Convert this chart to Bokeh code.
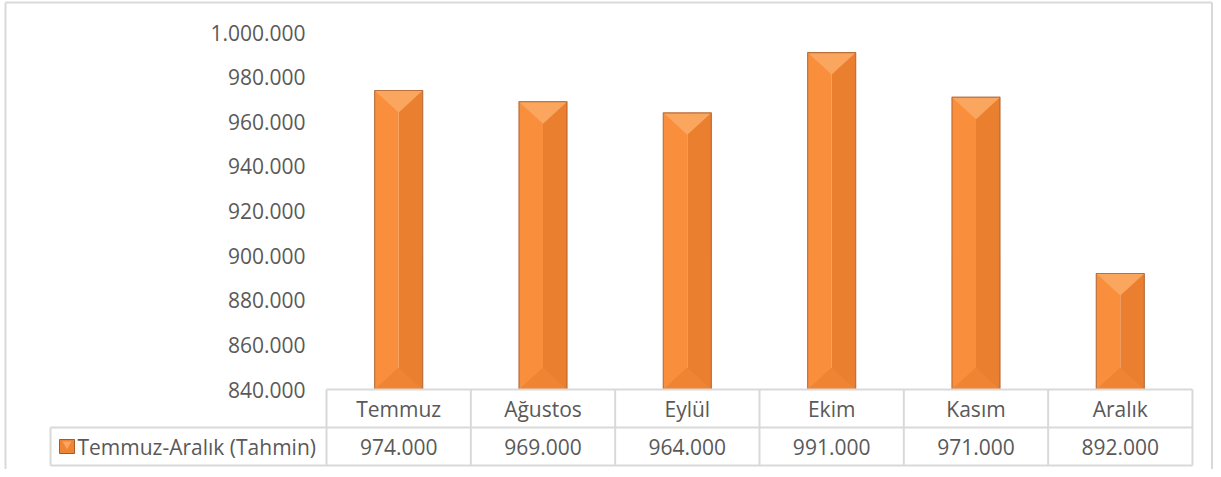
from bokeh.plotting import figure
from bokeh.models import Range1d
from bokeh.core.properties import value
from bokeh.embed import file_html
from bokeh.resources import INLINE

# ---- data ----
categories = ["Temmuz", "Ağustos", "Eylül", "Ekim", "Kasım", "Aralık"]
series_name = "Temmuz-Aralık (Tahmin)"
values = [974000, 969000, 964000, 991000, 971000, 892000]
y_ticks = [840000, 860000, 880000, 900000, 920000, 940000, 960000, 980000, 1000000]


def tr(n):
    return f"{n:,}".replace(",", ".")


# ---- layout constants (canvas pixels) ----
W, H = 1213, 469
col_px = 144.33
plot_left_px = 326
y_top_px, y_bot_px = 32, 389
row1_bot_px, row2_bot_px = 427, 465
name_left_px = 50
ymin, ymax = y_ticks[0], y_ticks[-1]
dpp = (ymax - ymin) / (y_bot_px - y_top_px)


def py(cy):
    return ymin - (cy - y_bot_px) * dpp


def px(cx):
    return -0.5 + (cx - plot_left_px) / col_px


FONT = value("Open Sans")
TXT = "#595959"
GRID = "#D9D9D9"
FS = "21px"

p = figure(width=W, height=H, x_range=Range1d(px(0), px(W)), y_range=Range1d(py(H), py(0)),
           output_backend="svg", toolbar_location=None, min_border=0,
           x_axis_location=None, y_axis_location=None, outline_line_color=None)
p.grid.visible = False
p.background_fill_color = "white"
p.border_fill_color = "white"

n = len(categories)
# ---- outer border ----
p.segment(x0=[px(5), px(5), px(W - 1.5)], y0=[py(2), py(2), py(2)],
          x1=[px(W - 1.5), px(5), px(W - 1.5)], y1=[py(2), py(H), py(H)],
          line_color=GRID, line_width=2)

# ---- bars with bevel ----
hw = 1 / 6
bev = 22 * dpp
xs_l, ys_l, xs_r, ys_r, xs_t, ys_t, xs_b, ys_b, xs_o, ys_o = [], [], [], [], [], [], [], [], [], []
for i, v in enumerate(values):
    x0, x1, xc = i - hw, i + hw, i
    xs_l.append([x0, xc, xc, x0]); ys_l.append([ymin, ymin, v, v])
    xs_r.append([xc, x1, x1, xc]); ys_r.append([ymin, ymin, v, v])
    xs_t.append([x0, x1, xc]); ys_t.append([v, v, v - bev])
    xs_b.append([x0, x1, xc]); ys_b.append([ymin, ymin, ymin + bev])
    xs_o.append([x0, x1, x1, x0]); ys_o.append([ymin, ymin, v, v])
p.patches(xs_l, ys_l, fill_color="#F98F3D", line_color=None)
p.patches(xs_r, ys_r, fill_color="#EB7F30", line_color=None)
p.patches(xs_b, ys_b, fill_color="#EE8434", line_color=None)
p.patches(xs_t, ys_t, fill_color="#FBA65E", line_color=None)
p.patches(xs_o, ys_o, fill_color=None, line_color="#A55A28", line_alpha=0.75, line_width=1.2)

# ---- y tick labels ----
p.text(x=[px(305)] * len(y_ticks), y=y_ticks, text=[tr(t) for t in y_ticks],
       text_align="right", text_baseline="middle", text_font=FONT,
       text_font_size=FS, text_color=TXT)

# ---- data table ----
r1 = py(row1_bot_px)
r2 = py(row2_bot_px)
left = px(name_left_px)
hx0 = [-0.5, left, left]
hx1 = [n - 0.5, n - 0.5, n - 0.5]
hy = [ymin, r1, r2]
vx = [i - 0.5 for i in range(n + 1)] + [left]
vy0 = [ymin] * (n + 1) + [r1]
p.segment(x0=hx0, y0=hy, x1=hx1, y1=hy, line_color=GRID, line_width=2)
p.segment(x0=vx, y0=vy0, x1=vx, y1=[r2] * len(vx), line_color=GRID, line_width=2)

idx = list(range(n))
p.text(x=idx, y=[(ymin + r1) / 2] * n, text=categories, text_align="center",
       text_baseline="middle", text_font=FONT, text_font_size=FS, text_color=TXT)
p.text(x=idx, y=[(r1 + r2) / 2] * n, text=[tr(v) for v in values], text_align="center",
       text_baseline="middle", text_font=FONT, text_font_size=FS, text_color=TXT)
p.text(x=[px(77)], y=[(r1 + r2) / 2], text=[series_name], text_align="left",
       text_baseline="middle", text_font=FONT, text_font_size=FS, text_color=TXT)

# legend key
p.rect(x=[px(66.5)], y=[(r1 + r2) / 2], width=15, height=14, width_units="screen",
       height_units="screen", fill_color="#EE8434", line_color="#A55A28", line_width=1)
p.scatter(x=[px(66.5)], y=[(r1 + r2) / 2 + 2.5 * dpp], marker="inverted_triangle", size=9,
          fill_color="#FBA65E", line_color=None)

open("out.html", "w").write(file_html(p, INLINE))
